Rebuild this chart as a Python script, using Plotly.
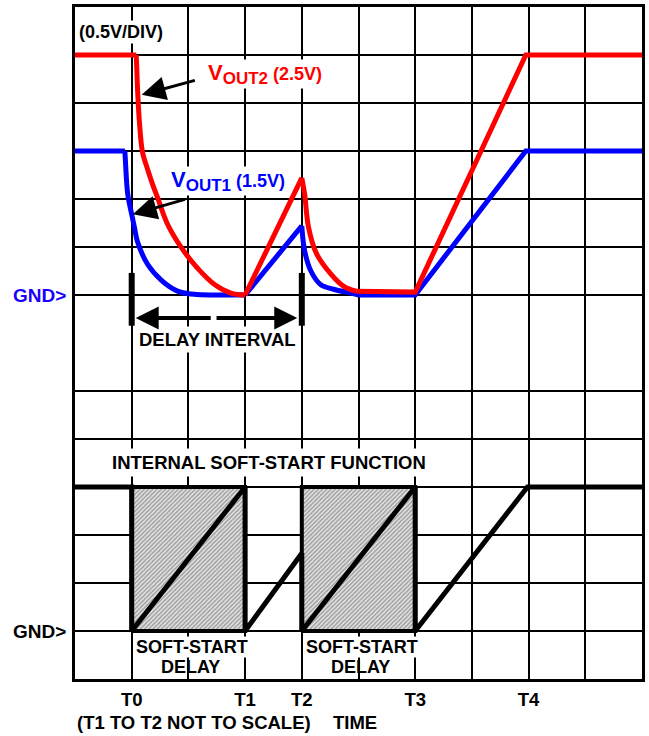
import plotly.graph_objects as go

# ---------------- data (time in grid divisions, voltages in volts) ----------------
vout2_time = [0, 1.08, 1.09, 1.105, 1.14, 1.19, 1.28, 1.37, 1.46, 1.63, 1.88, 2.16, 2.46, 2.75, 3.0,
              4.0, 4.05, 4.12, 4.26, 4.51, 4.74, 4.96, 6.0, 7.95, 10]
vout2_volts = [2.5, 2.5, 2.35, 2.12, 1.77, 1.49, 1.31, 1.15, 1.01, 0.74, 0.49, 0.28, 0.11, 0.02, 0.0,
               1.22, 1.05, 0.70, 0.43, 0.22, 0.09, 0.04, 0.03, 2.5, 2.5]

vout1_time = [0, 0.88, 0.89, 0.93, 1.0, 1.05, 1.1, 1.28, 1.53, 1.81, 2.05, 3.0,
              4.0, 4.05, 4.16, 4.33, 4.56, 4.86, 5.0, 6.0, 7.95, 10]
vout1_volts = [1.5, 1.5, 1.39, 1.05, 0.84, 0.70, 0.56, 0.32, 0.15, 0.04, 0.01, 0.0,
               0.72, 0.46, 0.25, 0.11, 0.06, 0.02, 0.0, 0.0, 1.5, 1.5]

softstart_time = [0, 1, 1, 3, 3, 4, 4, 6, 6, 7.98, 10]
softstart_level = [1, 1, 0, 1, 0, 0.54, 0, 1, 0, 1, 1]

delay_windows = [(1, 3), (4, 6)]          # soft-start delay intervals (T0-T1, T2-T3)

tick_positions = list(range(0, 11))
tick_labels = ["", "T0", "", "T1", "T2", "", "T3", "", "T4", "", ""]
grid_volts = [v / 2 for v in range(-8, 7) if v != -1]   # 0.5 V/div grid (one line omitted)

# segments of each trace: (first index, last index, line shape)
vout2_segments = [(0, 1, "linear"), (1, 14, "spline"), (14, 15, "linear"),
                  (15, 21, "spline"), (21, 24, "linear")]
vout1_segments = [(0, 1, "linear"), (1, 11, "spline"), (11, 12, "linear"),
                  (12, 18, "spline"), (18, 21, "linear")]

# ---------------- figure ----------------
FONT = "Liberation Sans"
FS = 18.5
fig = go.Figure()

for (a, b) in delay_windows:
    fig.add_trace(go.Scatter(
        x=[a, b, b, a, a], y=[0, 0, 1, 1, 0], yaxis="y2", mode="lines",
        fill="toself", fillcolor="#c8c8c8",
        fillpattern=dict(shape="/", size=3, solidity=0.5, fgcolor="#555555", bgcolor="#e6e6e6"),
        line=dict(color="black", width=4), hoverinfo="skip", showlegend=False))

fig.add_trace(go.Scatter(x=softstart_time, y=softstart_level, yaxis="y2", mode="lines",
                         line=dict(color="black", width=5), showlegend=False))


def add_series(xs, ys, segments, color):
    for (i0, i1, shp) in segments:
        fig.add_trace(go.Scatter(x=xs[i0:i1 + 1], y=ys[i0:i1 + 1], mode="lines",
                                 line=dict(color=color, width=5, shape=shp, smoothing=1.0),
                                 showlegend=False, hoverinfo="skip"))


add_series(vout1_time, vout1_volts, vout1_segments, "#0000ff")
add_series(vout2_time, vout2_volts, vout2_segments, "#ff0000")

bold = dict(family=FONT, size=FS, color="black", weight="bold")

ann = []
ann.append(dict(x=0.03, y=2.74, xref="x", yref="y", text="(0.5V/DIV)", showarrow=False,
                xanchor="left", font=dict(family=FONT, size=18, color="black", weight="bold"),
                bgcolor="white", borderpad=1))
ann.append(dict(x=2.32, y=2.3, xref="x", yref="y", xanchor="left", showarrow=False,
                text="<span style='font-size:22px'>V</span><sub><span style='font-size:17px'>OUT2</span></sub> (2.5V)",
                font=dict(family=FONT, size=18, color="#ff0000", weight="bold"), bgcolor="white", borderpad=0))
ann.append(dict(x=1.67, y=1.19, xref="x", yref="y", xanchor="left", showarrow=False,
                text="<span style='font-size:22px'>V</span><sub><span style='font-size:17px'>OUT1</span></sub> (1.5V)",
                font=dict(family=FONT, size=18, color="#0000ff", weight="bold"), bgcolor="white", borderpad=0))
# GND markers
ann.append(dict(x=-0.012, y=0, xref="paper", yref="y", xanchor="right", yanchor="middle",
                text="GND>", showarrow=False,
                font=dict(family=FONT, size=19, color="#1a00ff", weight="bold")))
ann.append(dict(x=-0.012, y=0, xref="paper", yref="y2", xanchor="right", yanchor="middle",
                text="GND>", showarrow=False,
                font=dict(family=FONT, size=19, color="black", weight="bold")))
# delay interval
ann.append(dict(x=2.51, y=-0.46, xref="x", yref="y", text="DELAY INTERVAL", showarrow=False,
                font=bold, bgcolor="white", borderpad=2))
# soft start labels
ann.append(dict(x=3.42, y=1.167, xref="x", yref="y2", text="INTERNAL SOFT-START FUNCTION",
                showarrow=False, font=bold, bgcolor="white", borderpad=3))
for (a, b) in delay_windows:
    c = (a + b) / 2 + 0.07
    ann.append(dict(x=c, y=-0.11, xref="x", yref="y2", text="SOFT-START", showarrow=False,
                    font=dict(family=FONT, size=18, color="black", weight="bold"),
                    bgcolor="white", borderpad=0))
    ann.append(dict(x=c - 0.03, y=-0.25, xref="x", yref="y2", text="DELAY", showarrow=False,
                    font=dict(family=FONT, size=18, color="black", weight="bold"), borderpad=0))
ann.append(dict(x=0.21, y=-0.064, xref="paper", yref="paper", xanchor="center", yanchor="middle",
                text="(T1 TO T2 NOT TO SCALE)", showarrow=False, font=bold))
ann.append(dict(x=0.493, y=-0.064, xref="paper", yref="paper", xanchor="center", yanchor="middle",
                text="TIME", showarrow=False, font=bold))
# pointer arrows
ann.append(dict(x=1.175, y=2.085, ax=2.14, ay=2.24, xref="x", yref="y", axref="x", ayref="y",
                text="", showarrow=True, arrowhead=2, arrowsize=1.6, arrowwidth=3, arrowcolor="black"))
ann.append(dict(x=1.02, y=0.84, ax=1.965, ay=1.0, xref="x", yref="y", axref="x", ayref="y",
                text="", showarrow=True, arrowhead=2, arrowsize=1.6, arrowwidth=3, arrowcolor="black"))
ann.append(dict(x=1.07, y=-0.24, ax=2.42, ay=-0.24, xref="x", yref="y", axref="x", ayref="y",
                text="", showarrow=True, arrowhead=2, arrowsize=1.15, arrowwidth=4, arrowcolor="black"))
ann.append(dict(x=3.92, y=-0.24, ax=2.47, ay=-0.24, xref="x", yref="y", axref="x", ayref="y",
                text="", showarrow=True, arrowhead=2, arrowsize=1.15, arrowwidth=4, arrowcolor="black"))

shapes = []
for t in (1, 4):
    shapes.append(dict(type="line", xref="x", yref="y", x0=t, x1=t, y0=0.23, y1=-0.32,
                       line=dict(color="black", width=6)))

fig.update_layout(
    width=649, height=736,
    margin=dict(l=75, r=4, t=4, b=57),
    paper_bgcolor="white", plot_bgcolor="white",
    annotations=ann, shapes=shapes,
    xaxis=dict(range=[0, 10], tickmode="array", tickvals=tick_positions, ticktext=tick_labels,
               showgrid=True, gridcolor="black", gridwidth=2, zeroline=False,
               showline=True, mirror=True, linecolor="black", linewidth=3, ticks="",
               tickfont=bold, ticklabelstandoff=2),
    yaxis=dict(range=[-4, 3], tickmode="array", tickvals=grid_volts, showticklabels=False,
               showgrid=True, gridcolor="black", gridwidth=2, zeroline=False,
               showline=True, mirror=True, linecolor="black", linewidth=3, ticks=""),
    yaxis2=dict(range=[-1 / 3, 13 / 3], overlaying="y", showgrid=False, zeroline=False,
                showticklabels=False, showline=False),
)

fig.write_html("out.html", config={"displayModeBar": False},
               post_script="document.body.style.margin='0px';")
